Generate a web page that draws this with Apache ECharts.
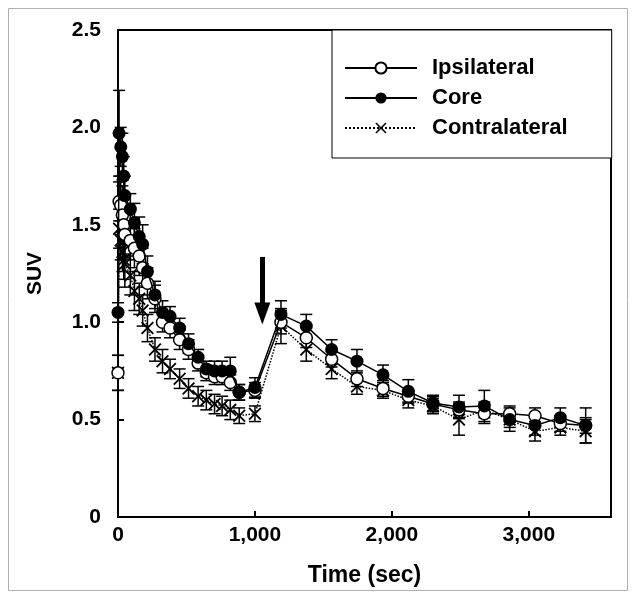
<!DOCTYPE html>
<html>
<head>
<meta charset="utf-8">
<script src="https://cdn.jsdelivr.net/npm/echarts@6/dist/echarts.min.js"></script>
<style>html,body{margin:0;padding:0;background:#fff;}#c{width:636px;height:600px;}</style>
</head>
<body>
<div id="c"></div>
<script>
const times = [0, 8, 20, 32, 42, 50, 90, 120, 155, 180, 215, 270, 325, 380, 450, 515, 585, 645, 705, 760, 820, 885, 1000,
  1190, 1375, 1560, 1745, 1935, 2120, 2300, 2490, 2675, 2860, 3045, 3230, 3415];
const ipsi = [0.74, 1.62, 1.60, 1.55, 1.50, 1.45, 1.42, 1.38, 1.34, 1.28, 1.20, 1.12, 1.00, 0.97, 0.91, 0.86, 0.79, 0.74, 0.72, 0.72, 0.69, 0.64, 0.65,
  1.00, 0.92, 0.81, 0.71, 0.66, 0.62, 0.58, 0.55, 0.53, 0.53, 0.52, 0.48, 0.47];
const ipsiErr = [0.09, 0.10, 0.15, 0.15, 0.15, 0.12, 0.10, 0.10, 0.10, 0.10, 0.08, 0.07, 0.05, 0.05, 0.05, 0.05, 0.04, 0.04, 0.04, 0.04, 0.04, 0.04, 0.04,
  0.06, 0.05, 0.04, 0.04, 0.04, 0.03, 0.04, 0.04, 0.05, 0.04, 0.04, 0.04, 0.04];
const core = [1.05, 1.97, 1.90, 1.85, 1.75, 1.65, 1.58, 1.51, 1.44, 1.40, 1.26, 1.14, 1.05, 1.03, 0.97, 0.89, 0.82, 0.76, 0.75, 0.75, 0.75, 0.64, 0.665,
  1.04, 0.98, 0.86, 0.80, 0.73, 0.645, 0.585, 0.565, 0.57, 0.50, 0.47, 0.51, 0.47];
const coreErr = [0.05, 0.22, 0.10, 0.12, 0.10, 0.10, 0.08, 0.10, 0.10, 0.10, 0.08, 0.07, 0.06, 0.05, 0.05, 0.05, 0.04, 0.04, 0.05, 0.05, 0.07, 0.04, 0.05,
  0.07, 0.06, 0.05, 0.06, 0.05, 0.06, 0.04, 0.06, 0.08, 0.06, 0.05, 0.05, 0.09];
const contra = [0.74, 1.48, 1.42, 1.36, 1.32, 1.30, 1.24, 1.16, 1.12, 1.06, 0.97, 0.86, 0.80, 0.76, 0.71, 0.66, 0.62, 0.60, 0.58, 0.57, 0.55, 0.52, 0.53,
  0.98, 0.86, 0.76, 0.67, 0.65, 0.60, 0.57, 0.50, 0.55, 0.50, 0.44, 0.46, 0.44];
const contraErr = [0.09, 0.10, 0.10, 0.10, 0.10, 0.12, 0.10, 0.10, 0.08, 0.08, 0.07, 0.06, 0.06, 0.05, 0.05, 0.05, 0.05, 0.05, 0.05, 0.05, 0.05, 0.04, 0.04,
  0.09, 0.06, 0.05, 0.04, 0.04, 0.04, 0.04, 0.08, 0.04, 0.04, 0.05, 0.04, 0.06];
const seriesNames = ['Ipsilateral', 'Core', 'Contralateral'];
const xTicks = [0, 1000, 2000, 3000];
const yTicks = [0, 0.5, 1.0, 1.5, 2.0, 2.5];
const arrowFrom = [1054, 1.335];
const arrowTo = [1054, 1.045];

const FONT = 'Arial, "Liberation Sans", sans-serif';
const crossPath = 'path://M0,1 L1,0 L5,4 L9,0 L10,1 L6,5 L10,9 L9,10 L5,6 L1,10 L0,9 L4,5 Z';

function pairs(vals) { return times.map((t, i) => [t, vals[i]]); }
function errData(vals, errs) { return times.map((t, i) => [t, vals[i], errs[i]]); }
function errRender(params, api) {
  const x = api.value(0), y = api.value(1), e = api.value(2);
  const top = api.coord([x, y + e]);
  const bot = api.coord([x, y - e]);
  const hw = 6;
  const st = { stroke: '#000', lineWidth: 1.5 };
  return {
    type: 'group',
    children: [
      { type: 'line', shape: { x1: top[0], y1: top[1], x2: bot[0], y2: bot[1] }, style: st },
      { type: 'line', shape: { x1: top[0] - hw, y1: top[1], x2: top[0] + hw, y2: top[1] }, style: st },
      { type: 'line', shape: { x1: bot[0] - hw, y1: bot[1], x2: bot[0] + hw, y2: bot[1] }, style: st }
    ]
  };
}
function errSeries(vals, errs) {
  return { type: 'custom', renderItem: errRender, data: errData(vals, errs), encode: { x: 0, y: 1 }, z: 1, silent: true };
}

const chart = echarts.init(document.getElementById('c'), null, { renderer: 'canvas' });
chart.setOption({
  animation: false,
  backgroundColor: '#fff',
  graphic: [{
    type: 'rect', shape: { x: 8.5, y: 8.5, width: 619, height: 582 },
    style: { fill: 'none', stroke: '#b0b0b0', lineWidth: 1 }, silent: true
  }],
  grid: { left: 118, right: 25, top: 30, bottom: 83, show: true, borderColor: '#000', borderWidth: 2, backgroundColor: 'transparent' },
  legend: {
    data: seriesNames,
    orient: 'vertical',
    left: 332, top: 30,
    padding: [27, 44, 19, 12],
    itemWidth: 72, itemHeight: 14, itemGap: 8,
    borderColor: '#000', borderWidth: 1, backgroundColor: '#fff',
    textStyle: { fontFamily: FONT, fontWeight: 'bold', fontSize: 22, color: '#000', padding: [0, 0, 0, 10] }
  },
  xAxis: {
    type: 'value', min: 0, max: 3600, interval: 1000,
    name: 'Time (sec)', nameLocation: 'middle', nameGap: 47,
    nameTextStyle: { fontFamily: FONT, fontWeight: 'bold', fontSize: 23, color: '#000' },
    axisLine: { lineStyle: { color: '#000', width: 2 } },
    axisTick: { inside: true, length: 6, lineStyle: { color: '#000', width: 2 } },
    splitLine: { show: false },
    axisLabel: {
      fontFamily: FONT, fontWeight: 'bold', fontSize: 21, color: '#000', margin: 8,
      formatter: v => xTicks.indexOf(v) >= 0 ? v.toLocaleString('en-US') : ''
    }
  },
  yAxis: {
    type: 'value', min: 0, max: 2.5, interval: 0.5,
    name: 'SUV', nameLocation: 'middle', nameGap: 72, nameRotate: 90,
    nameTextStyle: { fontFamily: FONT, fontWeight: 'bold', fontSize: 21, color: '#000' },
    axisLine: { lineStyle: { color: '#000', width: 2 } },
    axisTick: { inside: true, length: 6, lineStyle: { color: '#000', width: 2 } },
    splitLine: { show: false },
    axisLabel: {
      fontFamily: FONT, fontWeight: 'bold', fontSize: 21, color: '#000', margin: 17,
      formatter: v => yTicks.indexOf(v) >= 0 ? (v === 0 ? '0' : v.toFixed(1)) : ''
    }
  },
  series: [
    errSeries(ipsi, ipsiErr),
    errSeries(core, coreErr),
    errSeries(contra, contraErr),
    {
      name: 'Contralateral', type: 'line', data: pairs(contra), z: 3,
      symbol: crossPath, symbolSize: 13,
      lineStyle: { color: '#000', width: 1.5, type: 'dotted' },
      itemStyle: { color: '#000' }
    },
    {
      name: 'Ipsilateral', type: 'line', data: pairs(ipsi), z: 4,
      symbol: 'circle', symbolSize: 12,
      lineStyle: { color: '#000', width: 1.5 },
      itemStyle: { color: '#fff', borderColor: '#000', borderWidth: 1.5 }
    },
    {
      name: 'Core', type: 'line', data: pairs(core), z: 5,
      symbol: 'circle', symbolSize: 13,
      lineStyle: { color: '#000', width: 1.5 },
      itemStyle: { color: '#000' },
      markLine: {
        silent: true, symbol: ['none', 'triangle'], symbolSize: [16, 22],
        label: { show: false },
        lineStyle: { color: '#000', width: 5, type: 'solid' },
        itemStyle: { color: '#000' },
        data: [[{ coord: arrowFrom }, { coord: arrowTo }]]
      }
    }
  ]
});
</script>
</body>
</html>
